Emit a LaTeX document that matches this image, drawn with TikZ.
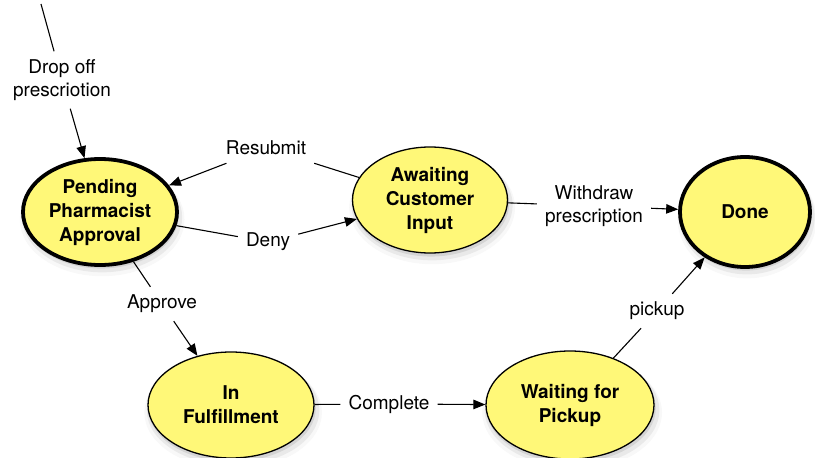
\documentclass[tikz,border=0pt]{standalone}
\usepackage{fontspec}
\setmainfont{TeX Gyre Heros}
\usetikzlibrary{arrows.meta,shapes.geometric,shadows}
\definecolor{stateyellow}{RGB}{255,248,120}
\begin{document}
\begin{tikzpicture}[x=1pt,y=-1pt,
  state/.style={ellipse, draw=black, fill=stateyellow, line width=1.3pt,
    align=center, inner sep=0pt,
    font=\fontsize{19}{24}\selectfont\bfseries,
    drop shadow={shadow xshift=1pt, shadow yshift=-3pt, opacity=.20, shadow scale=1.01},
    drop shadow={shadow xshift=2pt, shadow yshift=-5pt, opacity=.12, shadow scale=1.04},
    drop shadow={shadow xshift=2pt, shadow yshift=-7pt, opacity=.06, shadow scale=1.07}},
  finalstate/.style={state, line width=3.8pt},
  lbl/.style={align=center, inner sep=8pt, font=\fontsize{19}{23}\selectfont},
  conn/.style={line width=1.1pt, draw=black},
  arr/.style={conn, -{Triangle[length=12pt,width=9.5pt]}}]
\useasboundingbox (0,0) rectangle (815,458);

\node[finalstate, minimum width=154, minimum height=106] (pend) at (100,212) {Pending\\Pharmacist\\Approval};
\node[state, minimum width=155, minimum height=106] (await) at (430,200) {Awaiting\\Customer\\Input};
\node[finalstate, minimum width=130, minimum height=110] (done) at (745,212) {Done};
\node[state, minimum width=166, minimum height=106] (inful) at (231,405) {In\\Fulfillment};
\node[state, minimum width=168, minimum height=108] (wait) at (570,405) {Waiting for\\Pickup};

\coordinate (start) at (41,4);
\node[lbl] (drop) at (62,80) {Drop off\\prescriotion};
\node[lbl] (resub) at (266,148) {Resubmit};
\node[lbl] (deny) at (268,242) {Deny};
\node[lbl] (withdraw) at (594,206) {Withdraw\\prescription};
\node[lbl] (approve) at (162,304) {Approve};
\node[lbl] (complete) at (389,404) {Complete};
\node[lbl] (pickup) at (657,311) {pickup};

\draw[conn] (start) -- (drop);
\draw[arr] (drop) -- (pend);
\draw[conn] (await) -- (resub);
\draw[arr] (resub) -- (pend);
\draw[conn] (pend) -- (deny);
\draw[arr] (deny) -- (await);
\draw[conn] (await) -- (withdraw);
\draw[arr] (withdraw) -- (done);
\draw[conn] (pend) -- (approve);
\draw[arr] (approve) -- (inful);
\draw[conn] (inful) -- (complete);
\draw[arr] (complete) -- (wait);
\draw[conn] (wait) -- (pickup);
\draw[arr] (pickup) -- (done);
\end{tikzpicture}
\end{document}
